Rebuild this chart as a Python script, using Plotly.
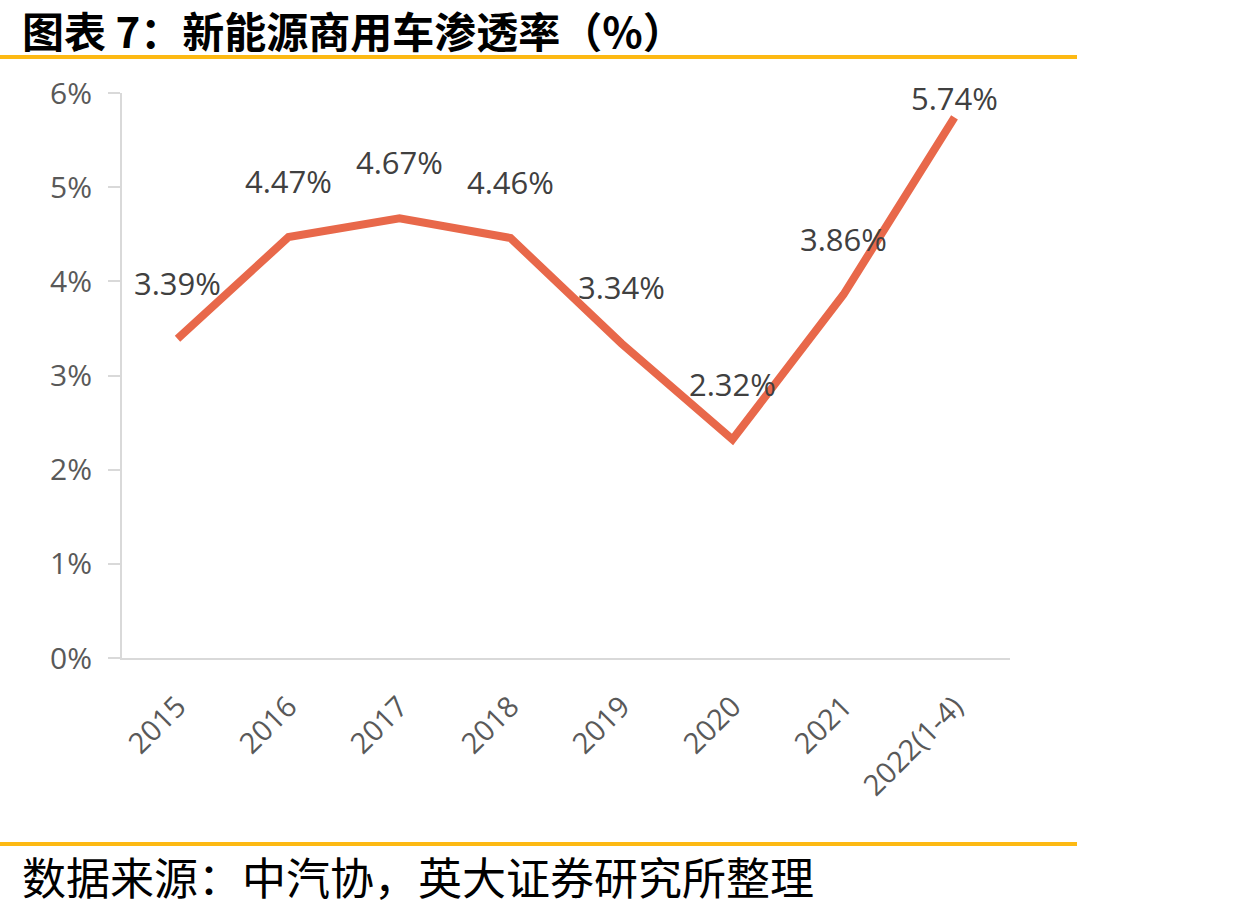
import plotly.graph_objects as go

# 新能源商用车渗透率（%）
years = ["2015", "2016", "2017", "2018", "2019", "2020", "2021", "2022(1-4)"]
rates = [3.39, 4.47, 4.67, 4.46, 3.34, 2.32, 3.86, 5.74]
y_ticks = [0, 1, 2, 3, 4, 5, 6]

W, H = 1233, 912
left, right, top, bottom = 122, 1010, 93, 658


def px_x(x):
    return (x - left) / (right - left)


def px_y(y):
    return (bottom - y) / (bottom - top)


fig = go.Figure()
fig.add_trace(go.Scatter(
    x=years, y=rates, mode="lines",
    line=dict(color="#E8684A", width=8),
    hoverinfo="skip", showlegend=False,
))

# data labels above each point (x given as category index: "2015" etc. would be read as numbers)
for i, v in enumerate(rates):
    fig.add_annotation(
        x=i, y=v, text=f"{v:.2f}%", showarrow=False,
        yshift=19 if i == len(rates) - 1 else 56,
        font=dict(family="Open Sans", size=31, color="#404040"),
    )

# gold rules and header/footer text
for y in (57, 844):
    fig.add_shape(type="line", xref="paper", yref="paper",
                  x0=px_x(0), x1=px_x(1077), y0=px_y(y), y1=px_y(y),
                  line=dict(color="#FDB913", width=4))

fig.add_annotation(
    xref="paper", yref="paper", x=px_x(20), y=px_y(30),
    xanchor="left", yanchor="middle", showarrow=False,
    text="<b>图表\u00a07：新能源商用车渗透率（%）</b>",
    font=dict(family="Noto Sans CJK SC", size=42, color="#000000"),
)
fig.add_annotation(
    xref="paper", yref="paper", x=px_x(20), y=px_y(876),
    xanchor="left", yanchor="middle", showarrow=False,
    text="数据来源：中汽协，英大证券研究所整理",
    font=dict(family="Noto Sans CJK SC", size=44, color="#000000"),
)

fig.update_layout(
    width=W, height=H,
    margin=dict(l=left, r=W - right, t=top, b=H - bottom),
    paper_bgcolor="white", plot_bgcolor="white",
    xaxis=dict(
        type="category", range=[-0.5, len(years) - 0.5],
        showgrid=False, showline=True, linecolor="#D9D9D9", linewidth=2,
        ticks="", tickangle=-45, ticklabelstandoff=18,
        tickfont=dict(family="Open Sans", size=29, color="#595959"),
        fixedrange=True,
    ),
    yaxis=dict(
        range=[0, 6], tickmode="array", tickvals=y_ticks,
        ticktext=[f"{t}%" for t in y_ticks],
        showgrid=False, zeroline=False, showline=True,
        linecolor="#D9D9D9", linewidth=2,
        ticks="outside", ticklen=12, tickcolor="#D9D9D9", tickwidth=2,
        ticklabelstandoff=10,
        tickfont=dict(family="Open Sans", size=30, color="#595959"),
        fixedrange=True,
    ),
)

fig.write_html("out.html", config={"displayModeBar": False},
               post_script="document.body.style.margin='0';")
